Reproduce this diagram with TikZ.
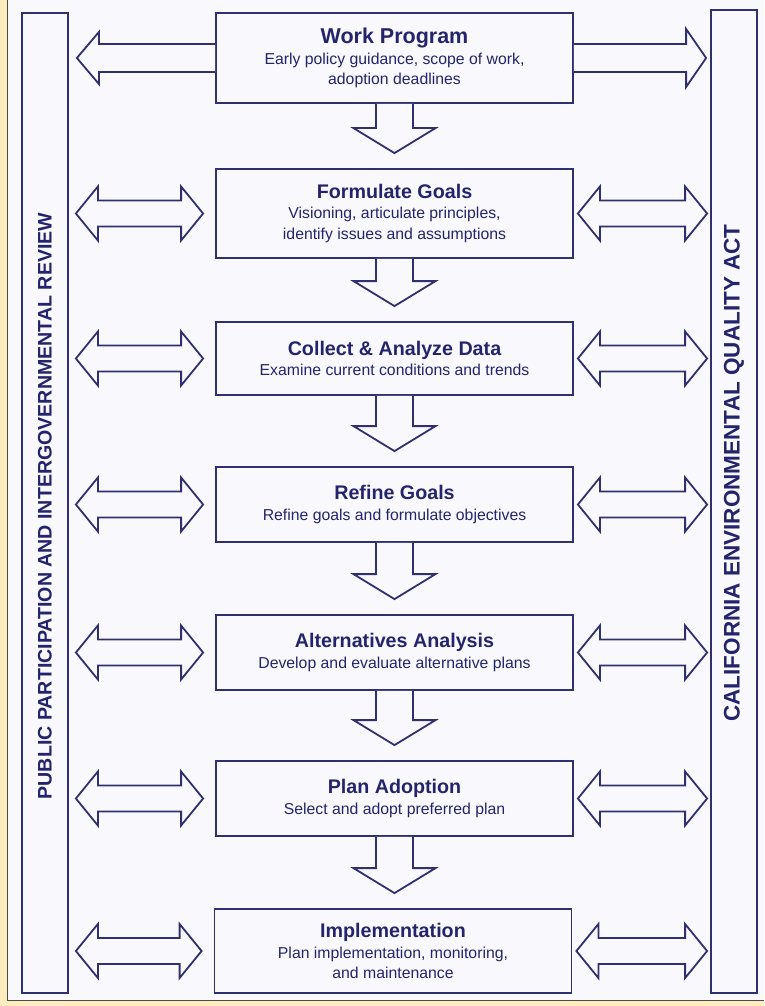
\documentclass[tikz,border=0pt]{standalone}
\usepackage{fontspec}
\setmainfont{Liberation Sans}
\usetikzlibrary{calc}
\definecolor{ink}{RGB}{48,48,112}
\definecolor{txt}{RGB}{36,36,108}
\definecolor{paper}{RGB}{249,249,253}
\definecolor{frame}{RGB}{252,236,190}
\newcommand\ttl[1]{{\fontsize{19.7}{21}\selectfont\bfseries #1}}
\newcommand\dbl[2]{\draw[blk] let \p1=(#1), \p2=(#2) in (\x1,\y1) -- (\x1+22pt,\y1+27pt) -- (\x1+22pt,\y1+13pt) -- (\x2-22pt,\y1+13pt) -- (\x2-22pt,\y1+27pt) -- (\x2,\y1) -- (\x2-22pt,\y1-27pt) -- (\x2-22pt,\y1-13pt) -- (\x1+22pt,\y1-13pt) -- (\x1+22pt,\y1-27pt) -- cycle;}
\newcommand\dn[2]{\draw[blk] let \p1=(#1.south), \p2=(#2.north) in (\x1-18.5pt,\y1) -- (\x1-18.5pt,\y2+40pt) -- (\x1-41pt,\y2+40pt) -- (\x1,\y2+15pt) -- (\x1+41pt,\y2+40pt) -- (\x1+18.5pt,\y2+40pt) -- (\x1+18.5pt,\y1);}
\begin{document}
\begin{tikzpicture}[x=1pt,y=-1pt,
  stage/.style={draw=ink, line width=1.8pt, fill=paper, minimum width=357pt, inner sep=0pt, align=center, text=txt, font=\fontsize{15.8}{20.5}\selectfont},
  bar/.style={draw=ink, line width=1.8pt, minimum width=46pt, inner sep=0pt},
  blk/.style={draw=ink, line width=1.8pt, fill=paper, line join=miter},
  sidetext/.style={text=txt, rotate=90, inner sep=0pt}]
\useasboundingbox (0,0) rectangle (764,1006);
\fill[frame] (0,0) rectangle (764,1006);
\fill[paper] (8,0) rectangle (764,1000);
\draw[black!70, line width=1pt] (7.5,0) -- (7.5,1000.5) -- (764,1000.5);
% side bars
\node[bar, minimum height=980pt] (pub) at (45,503) {};
\node[bar, minimum height=983pt] (cqa) at (734,501.5) {};
\node[sidetext, font=\fontsize{19.6}{21}\selectfont\bfseries] (pubt) at (45,506) {PUBLIC PARTICIPATION AND INTERGOVERNMENTAL REVIEW};
\node[sidetext, font=\fontsize{22.5}{24}\selectfont\bfseries] (cqat) at (734,473) {CALIFORNIA ENVIRONMENTAL QUALITY ACT};
% stages
\node[stage, minimum height=90pt] (wp) at (394.5,58) {{\fontsize{21.5}{22}\selectfont\bfseries Work Program}\\Early policy guidance, scope of work,\\adoption deadlines};
\node[stage, minimum height=89pt] (fg) at (394.5,213.5) {\ttl{Formulate Goals}\\Visioning, articulate principles,\\identify issues and assumptions};
\node[stage, minimum height=73pt] (cad) at (394.5,358.5) {\ttl{Collect \& Analyze Data}\\Examine current conditions and trends};
\node[stage, minimum height=75pt] (rg) at (394.5,504.5) {\ttl{Refine Goals}\\Refine goals and formulate objectives};
\node[stage, minimum height=75pt] (aa) at (394.5,652.5) {\ttl{Alternatives Analysis}\\Develop and evaluate alternative plans};
\node[stage, minimum height=75pt] (pa) at (394.5,798.5) {\ttl{Plan Adoption}\\Select and adopt preferred plan};
\node[stage, minimum height=84pt] (im) at (393,951) {\ttl{Implementation}\\Plan implementation, monitoring,\\and maintenance};
% down arrows
\dn{wp}{fg}
\dn{fg}{cad}
\dn{cad}{rg}
\dn{rg}{aa}
\dn{aa}{pa}
\dn{pa}{im}
% work program outward arrows
\draw[blk] let \p1=(wp.west), \p2=($(pub.east|-wp.west)+(8,0)$) in (\x1,\y1+14pt) -- (\x2+22pt,\y1+14pt) -- (\x2+22pt,\y1+26pt) -- (\x2,\y1) -- (\x2+22pt,\y1-26pt) -- (\x2+22pt,\y1-14pt) -- (\x1,\y1-14pt);
\draw[blk] let \p1=(wp.east), \p2=($(cqa.west|-wp.east)+(-4,0)$) in (\x1,\y1+14pt) -- (\x2-20pt,\y1+14pt) -- (\x2-20pt,\y1+29pt) -- (\x2,\y1) -- (\x2-20pt,\y1-29pt) -- (\x2-20pt,\y1-14pt) -- (\x1,\y1-14pt);
% double arrows
\foreach \s in {fg,cad,rg,aa,pa,im}{
  \dbl{$(pub.east|-\s.west)+(7,0)$}{$(\s.west)+(-12,0)$}
  \dbl{$(\s.east)+(4,0)$}{$(cqa.west|-\s.east)+(-3,0)$}
}
\end{tikzpicture}
\end{document}
